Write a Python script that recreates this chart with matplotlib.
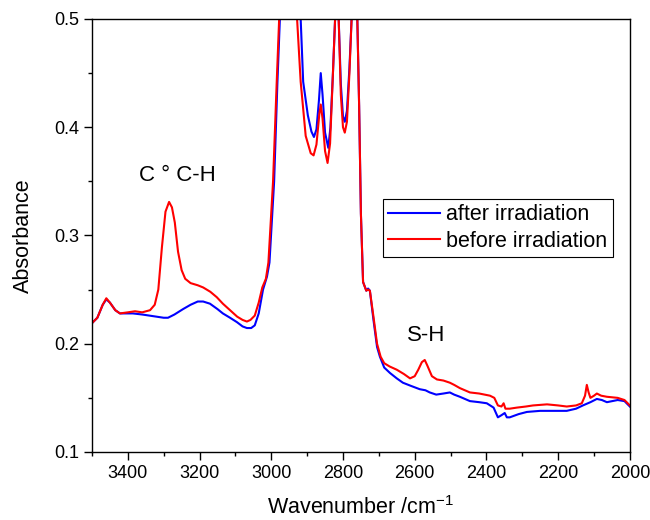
import numpy as np
import matplotlib
matplotlib.use('Agg')
import matplotlib.pyplot as plt
from matplotlib.ticker import MultipleLocator

plt.rcParams['font.family'] = ['Liberation Sans', 'DejaVu Sans']
plt.rcParams['mathtext.fontset'] = 'custom'
plt.rcParams['mathtext.rm'] = 'Liberation Sans'
plt.rcParams['mathtext.it'] = 'Liberation Sans:italic'

# before irradiation (red)
wn_before = [3500, 3485, 3470, 3460, 3450, 3435, 3422, 3400, 3380, 3360, 3338, 3325,
             3315, 3305, 3295, 3285, 3277, 3269, 3260, 3250, 3240, 3225, 3205, 3190,
             3170, 3152, 3135, 3115, 3095, 3080, 3068, 3058, 3046, 3035, 3025, 3015,
             3008, 2995, 2985, 2978, 2965, 2950, 2935, 2928, 2918, 2904, 2890, 2882,
             2874, 2866, 2862, 2857, 2850, 2843, 2836, 2828, 2822, 2817, 2812, 2806,
             2800, 2795, 2789, 2782, 2776, 2768, 2760, 2755, 2750, 2744, 2735, 2730,
             2725, 2715, 2705, 2695, 2685, 2670, 2650, 2630, 2613, 2600, 2590, 2580,
             2572, 2565, 2552, 2538, 2520, 2502, 2490, 2474, 2460, 2446, 2420, 2390,
             2378, 2368, 2358, 2352, 2347, 2335, 2315, 2290, 2270, 2231, 2200, 2176,
             2150, 2134, 2125, 2120, 2115, 2110, 2100, 2092, 2080, 2064, 2034, 2015,
             2000]
abs_before = [0.219, 0.224, 0.236, 0.242, 0.238, 0.231, 0.228, 0.229, 0.230, 0.229, 0.231, 0.236,
              0.250, 0.289, 0.322, 0.331, 0.326, 0.312, 0.285, 0.268, 0.260, 0.256, 0.254, 0.252,
              0.248, 0.243, 0.237, 0.231, 0.225, 0.222, 0.2205, 0.222, 0.226, 0.238, 0.252, 0.260,
              0.275, 0.350, 0.440, 0.500, 0.62, 0.66, 0.60, 0.50, 0.442, 0.392, 0.376, 0.374,
              0.384, 0.412, 0.421, 0.408, 0.378, 0.367, 0.385, 0.450, 0.50, 0.55, 0.50, 0.43,
              0.400, 0.395, 0.405, 0.450, 0.50, 0.56, 0.50, 0.42, 0.32, 0.257, 0.249, 0.250,
              0.249, 0.225, 0.200, 0.188, 0.182, 0.179, 0.176, 0.172, 0.168, 0.170, 0.176, 0.183,
              0.185, 0.180, 0.170, 0.167, 0.166, 0.164, 0.162, 0.159, 0.157, 0.155, 0.154, 0.152,
              0.150, 0.143, 0.142, 0.145, 0.140, 0.140, 0.141, 0.142, 0.143, 0.144, 0.143, 0.142,
              0.143, 0.145, 0.152, 0.162, 0.155, 0.150, 0.152, 0.154, 0.152, 0.151, 0.150, 0.148,
              0.143]

# after irradiation (blue)
wn_after = [3500, 3485, 3470, 3460, 3450, 3435, 3422, 3400, 3386, 3360, 3340, 3320,
            3300, 3288, 3270, 3246, 3225, 3205, 3190, 3171, 3150, 3135, 3115, 3096,
            3080, 3068, 3056, 3046, 3035, 3023, 3012, 3005, 2992, 2983, 2976, 2960,
            2945, 2930, 2918, 2911, 2898, 2888, 2881, 2874, 2867, 2862, 2857, 2850,
            2841, 2835, 2828, 2822, 2817, 2812, 2806, 2800, 2795, 2789, 2782, 2776,
            2768, 2760, 2755, 2750, 2744, 2735, 2730, 2725, 2715, 2705, 2697, 2685,
            2669, 2650, 2633, 2610, 2586, 2570, 2558, 2540, 2520, 2502, 2490, 2474,
            2460, 2446, 2420, 2399, 2380, 2368, 2358, 2349, 2343, 2335, 2310, 2287,
            2250, 2223, 2176, 2150, 2131, 2110, 2092, 2078, 2064, 2034, 2015, 2000]
abs_after = [0.219, 0.224, 0.236, 0.241, 0.238, 0.231, 0.228, 0.228, 0.228, 0.227, 0.226, 0.225,
             0.224, 0.224, 0.227, 0.232, 0.236, 0.239, 0.239, 0.237, 0.232, 0.228, 0.224, 0.220,
             0.216, 0.2145, 0.2145, 0.217, 0.228, 0.250, 0.262, 0.275, 0.350, 0.440, 0.500, 0.62,
             0.66, 0.60, 0.50, 0.442, 0.411, 0.396, 0.391, 0.398, 0.425, 0.450, 0.430, 0.395,
             0.381, 0.400, 0.450, 0.50, 0.55, 0.50, 0.44, 0.410, 0.405, 0.415, 0.455, 0.50,
             0.56, 0.50, 0.42, 0.32, 0.257, 0.249, 0.251, 0.249, 0.222, 0.197, 0.188, 0.178,
             0.173, 0.168, 0.164, 0.161, 0.158, 0.157, 0.155, 0.153, 0.154, 0.155, 0.153, 0.151,
             0.149, 0.147, 0.146, 0.145, 0.141, 0.132, 0.134, 0.136, 0.132, 0.132, 0.135, 0.137,
             0.138, 0.138, 0.138, 0.140, 0.143, 0.146, 0.149, 0.148, 0.146, 0.148, 0.147, 0.142]

labels = ['after irradiation', 'before irradiation']

fig = plt.figure(figsize=(6.5, 5.2), dpi=100)
ax = fig.add_axes([0.1415, 0.1308, 0.8275, 0.8327])

ax.plot(wn_after, abs_after, color='#0000ff', lw=1.5, label=labels[0])
ax.plot(wn_before, abs_before, color='#ff0000', lw=1.5, label=labels[1])

ax.set_xlim(3500, 2000)
ax.set_ylim(0.1, 0.5)
ax.xaxis.set_minor_locator(MultipleLocator(100))
ax.yaxis.set_major_locator(MultipleLocator(0.1))
ax.yaxis.set_minor_locator(MultipleLocator(0.05))
ax.set_xticks([3400, 3200, 3000, 2800, 2600, 2400, 2200, 2000])
ax.tick_params(which='both', direction='out', top=False, right=False, labelsize=13)
ax.tick_params(which='major', length=6, width=1)
ax.tick_params(which='minor', length=3, width=1)
for s in ax.spines.values():
    s.set_linewidth(1.0)

ax.set_xlabel('Wavenumber /cm$^{-1}$', fontsize=15.5, labelpad=10)
ax.set_ylabel('Absorbance', fontsize=15.5, labelpad=14)

ax.text(3369, 0.355, 'C ° C-H', fontsize=16, va='center', ha='left')
ax.text(2622, 0.208, 'S-H', fontsize=16, va='center', ha='left')

leg = ax.legend(loc='upper right', bbox_to_anchor=(0.968, 0.584), fontsize=15.5,
                frameon=True, fancybox=False, framealpha=1, edgecolor='black',
                handlelength=2.4, labelspacing=0.25, borderpad=0.25,
                handletextpad=0.3, borderaxespad=0)
leg.get_frame().set_linewidth(0.8)

fig.savefig('out.png', dpi=100)
